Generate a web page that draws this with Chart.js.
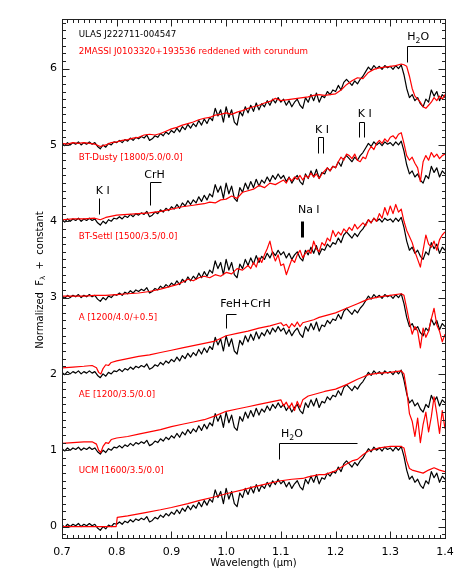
<!DOCTYPE html>
<html><head><meta charset="utf-8">
<script src="https://cdn.jsdelivr.net/npm/chart.js@4.4.1/dist/chart.umd.min.js"></script>
<style>html,body{margin:0;padding:0;background:#fff;}canvas{display:block;}</style>
</head><body>
<canvas id="c" width="463" height="579"></canvas>
<script>
// ---------------- DATA ----------------
// Observed spectrum of ULAS J222711-004547 (normalised), shown once per panel with offsets
const wlObs = [
0.700,0.705,0.710,0.715,0.720,0.725,0.730,0.735,0.740,0.745,0.750,0.755,0.760,0.765,0.770,0.775,0.780,0.785,0.790,0.795,
0.800,0.805,0.810,0.815,0.820,0.825,0.830,0.835,0.840,0.845,0.850,0.855,0.860,0.865,0.870,0.875,0.880,0.885,0.890,0.895,
0.900,0.905,0.910,0.915,0.920,0.925,0.930,0.935,0.940,0.945,0.950,0.955,0.960,0.965,0.970,0.975,0.980,0.985,0.990,0.995,
1.000,1.005,1.010,1.015,1.020,1.025,1.030,1.035,1.040,1.045,1.050,1.055,1.060,1.065,1.070,1.075,1.080,1.085,1.090,1.095,
1.100,1.105,1.110,1.115,1.120,1.125,1.130,1.135,1.140,1.145,1.150,1.155,1.160,1.165,1.170,1.175,1.180,1.185,1.190,1.195,
1.200,1.205,1.210,1.215,1.220,1.225,1.230,1.235,1.240,1.245,1.250,1.255,1.260,1.265,1.270,1.275,1.280,1.285,1.290,1.295,
1.300,1.305,1.310,1.315,1.320,1.325,1.330,1.335,1.340,1.345,1.350,1.355,1.360,1.365,1.370,1.375,1.380,1.385,1.390,1.395,
1.400];
const obsFlux = [
0.02,-0.01,0.03,0.00,0.03,0.01,0.04,0.00,0.03,0.01,0.04,0.01,0.03,-0.02,-0.05,0.00,-0.03,0.02,0.00,0.04,
0.03,0.06,0.03,0.07,0.05,0.09,0.06,0.10,0.08,0.11,0.09,0.13,0.06,0.08,0.12,0.10,0.15,0.12,0.17,0.14,
0.19,0.16,0.22,0.17,0.24,0.20,0.27,0.22,0.28,0.24,0.32,0.26,0.34,0.28,0.36,0.32,0.48,0.38,0.46,0.30,
0.50,0.36,0.46,0.30,0.26,0.44,0.38,0.50,0.42,0.52,0.44,0.55,0.46,0.54,0.50,0.58,0.52,0.60,0.55,0.62,
0.56,0.60,0.52,0.58,0.50,0.56,0.60,0.52,0.48,0.62,0.56,0.66,0.58,0.68,0.56,0.64,0.62,0.70,0.66,0.72,
0.70,0.78,0.72,0.82,0.86,0.82,0.78,0.84,0.80,0.86,0.90,0.96,1.02,0.98,1.04,1.00,1.03,0.99,1.04,1.01,
1.03,0.99,1.04,1.00,1.05,0.92,0.74,0.62,0.66,0.58,0.62,0.54,0.50,0.60,0.56,0.72,0.64,0.70,0.58,0.66,
0.62];
const panelOffsets = [5, 4, 3, 2, 1, 0];

// Comparison spectra (normalised, before offset)
const wl2Mass = [0.70,0.71,0.72,0.73,0.74,0.75,0.76,0.77,0.78,0.79,0.80,0.81,0.82,0.83,0.84,0.85,0.86,0.87,0.88,0.89,
0.90,0.91,0.92,0.93,0.94,0.95,0.96,0.97,0.98,0.99,1.00,1.01,1.02,1.03,1.04,1.05,1.06,1.07,1.08,1.09,
1.10,1.11,1.12,1.13,1.14,1.15,1.16,1.17,1.18,1.19,1.20,1.21,1.22,1.23,1.24,1.25,1.26,1.27,1.28,1.29,
1.30,1.31,1.32,1.325,1.33,1.335,1.34,1.345,1.35,1.355,1.36,1.365,1.37,1.375,1.38,1.385,1.39,1.395,1.40];
const flux2Mass = [0.02,0.01,0.03,0.02,0.03,0.02,0.01,-0.02,0.00,0.03,0.04,0.06,0.07,0.09,0.10,0.13,0.14,0.13,0.15,0.18,
0.21,0.23,0.26,0.28,0.30,0.33,0.35,0.36,0.39,0.40,0.42,0.40,0.43,0.45,0.48,0.50,0.52,0.55,0.57,0.61,
0.58,0.59,0.60,0.61,0.62,0.63,0.65,0.66,0.65,0.66,0.67,0.72,0.79,0.84,0.88,0.87,0.95,0.99,1.01,1.02,
1.03,1.04,1.06,1.05,1.03,0.90,0.74,0.64,0.60,0.56,0.50,0.48,0.52,0.56,0.62,0.58,0.64,0.60,0.66];

const wlDusty = [0.70,0.72,0.74,0.76,0.77,0.78,0.80,0.82,0.84,0.86,0.88,0.90,0.92,0.94,0.95,0.96,0.97,0.98,0.99,1.00,
1.01,1.02,1.03,1.04,1.05,1.06,1.07,1.08,1.09,1.10,
1.105,1.110,1.115,1.120,1.125,1.130,1.135,1.140,1.145,1.150,1.155,1.160,1.165,1.170,1.175,1.180,1.185,1.190,1.195,1.200,
1.205,1.210,1.215,1.220,1.225,1.230,1.235,1.240,1.245,1.250,1.255,1.260,1.265,1.270,1.275,1.280,1.285,1.290,1.295,1.300,
1.305,1.310,1.315,1.320,1.325,1.330,1.335,1.340,1.345,1.350,1.355,1.360,1.365,1.370,1.375,1.380,1.385,1.390,1.395,1.400];
const fluxDusty = [0.02,0.03,0.03,0.04,0.02,0.05,0.08,0.09,0.10,0.11,0.13,0.16,0.19,0.21,0.22,0.23,0.25,0.24,0.28,0.29,
0.33,0.30,0.38,0.40,0.42,0.47,0.44,0.50,0.48,0.52,
0.54,0.50,0.57,0.53,0.58,0.55,0.60,0.54,0.60,0.57,0.63,0.58,0.62,0.56,0.62,0.66,0.70,0.66,0.72,0.70,
0.78,0.84,0.80,0.88,0.86,0.82,0.88,0.80,0.78,0.84,0.82,0.92,0.98,0.94,1.02,1.06,1.02,1.08,1.04,1.10,
1.12,1.08,1.14,1.16,1.02,0.86,0.80,0.84,0.76,0.70,0.52,0.78,0.86,0.80,0.90,0.84,0.88,0.82,0.86,0.88];

const wlSettl = [0.70,0.72,0.74,0.76,0.78,0.80,0.82,0.84,0.86,0.88,0.89,0.90,0.91,0.92,0.93,0.94,0.95,0.96,0.97,0.98,
0.99,1.00,1.01,1.02,1.03,1.04,1.045,1.05,1.055,1.06,1.065,1.07,1.075,1.08,1.085,1.09,1.095,1.10,
1.105,1.110,1.115,1.120,1.125,1.130,1.135,1.140,1.145,1.150,1.155,1.160,1.165,1.170,1.175,1.180,1.185,1.190,1.195,1.200,
1.205,1.210,1.215,1.220,1.225,1.230,1.235,1.240,1.245,1.250,1.255,1.260,1.265,1.270,1.275,1.280,1.285,1.290,1.295,1.300,
1.305,1.310,1.315,1.320,1.325,1.330,1.335,1.340,1.345,1.350,1.355,1.360,1.365,1.370,1.375,1.380,1.385,1.390,1.395,1.400];
const fluxSettl = [0.02,0.02,0.02,0.03,0.03,0.04,0.05,0.06,0.08,0.11,0.13,0.15,0.17,0.20,0.24,0.22,0.26,0.28,0.26,0.30,
0.28,0.33,0.31,0.38,0.36,0.42,0.38,0.46,0.40,0.52,0.46,0.56,0.64,0.74,0.58,0.48,0.56,0.42,
0.44,0.30,0.40,0.50,0.46,0.56,0.62,0.52,0.58,0.62,0.58,0.74,0.64,0.60,0.72,0.68,0.78,0.74,0.88,0.80,
0.86,0.82,0.90,0.86,0.92,0.88,0.96,0.90,0.94,0.98,0.94,1.02,0.98,1.04,1.00,1.10,1.04,1.18,1.08,1.20,
1.10,1.22,1.12,1.16,1.00,0.88,0.80,0.72,0.60,0.50,0.40,0.62,0.82,0.70,0.66,0.74,0.62,0.76,0.82,0.86];

const wlA = [0.70,0.72,0.74,0.755,0.763,0.767,0.771,0.775,0.78,0.785,0.79,0.80,0.82,0.84,0.86,0.88,0.90,0.92,0.94,0.96,
0.98,1.00,1.02,1.04,1.06,1.08,1.10,1.105,1.11,1.115,1.12,1.125,1.13,1.135,1.14,1.15,1.16,1.17,1.18,1.20,
1.22,1.24,1.25,1.26,1.28,1.30,1.32,1.325,1.33,1.335,1.34,1.345,1.35,1.355,1.36,1.365,1.37,1.375,1.38,1.385,
1.39,1.395,1.40];
const fluxA = [0.08,0.09,0.10,0.11,0.08,0.02,0.00,0.07,0.12,0.11,0.15,0.17,0.20,0.23,0.25,0.28,0.31,0.34,0.37,0.40,
0.43,0.50,0.53,0.56,0.60,0.63,0.67,0.63,0.65,0.60,0.66,0.62,0.68,0.62,0.67,0.69,0.71,0.74,0.76,0.80,
0.86,0.92,0.95,0.98,1.01,1.03,1.05,1.03,0.86,0.68,0.52,0.62,0.56,0.34,0.60,0.48,0.56,0.72,0.86,0.64,
0.56,0.42,0.52];

const wlAE = [0.70,0.72,0.74,0.755,0.763,0.767,0.771,0.775,0.78,0.785,0.79,0.80,0.82,0.84,0.86,0.88,0.90,0.92,0.94,0.96,
0.98,1.00,1.02,1.04,1.06,1.08,1.10,1.105,1.11,1.115,1.12,1.125,1.13,1.135,1.14,1.15,1.16,1.17,1.18,1.20,
1.22,1.24,1.25,1.26,1.28,1.30,1.32,1.325,1.33,1.335,1.34,1.345,1.35,1.355,1.36,1.365,1.37,1.375,1.38,1.385,
1.39,1.395,1.40];
const fluxAE = [0.09,0.10,0.11,0.11,0.08,0.00,-0.03,0.05,0.10,0.09,0.14,0.16,0.18,0.21,0.24,0.27,0.31,0.34,0.37,0.40,
0.45,0.51,0.54,0.57,0.60,0.63,0.66,0.58,0.63,0.55,0.62,0.52,0.64,0.56,0.66,0.71,0.73,0.75,0.77,0.80,
0.86,0.93,0.96,0.99,1.01,1.02,1.04,1.00,0.78,0.48,0.38,0.18,0.42,0.10,0.34,0.50,0.24,0.44,0.70,0.48,
0.22,0.52,0.28];

const wlUCM = [0.70,0.75,0.799,0.801,0.82,0.85,0.88,0.90,0.93,0.95,0.98,1.00,1.03,1.05,1.08,1.10,1.12,1.14,1.15,1.17,
1.18,1.20,1.22,1.23,1.24,1.25,1.26,1.28,1.30,1.32,1.325,1.33,1.335,1.34,1.35,1.36,1.37,1.38,1.39,1.40];
const fluxUCM = [0.00,0.00,0.00,0.12,0.14,0.18,0.22,0.25,0.30,0.34,0.39,0.43,0.48,0.52,0.57,0.60,0.62,0.63,0.65,0.68,
0.68,0.73,0.82,0.86,0.88,0.94,0.99,1.03,1.05,1.05,1.03,0.86,0.76,0.74,0.72,0.70,0.74,0.77,0.74,0.72];

const xTickValues = [0.7, 0.8, 0.9, 1.0, 1.1, 1.2, 1.3, 1.4];
const yTickValues = [0, 1, 2, 3, 4, 5, 6];

const modelLabels = ["BT-Dusty [1800/5.0/0.0]", "BT-Settl [1500/3.5/0.0]", "A [1200/4.0/+0.5]", "AE [1200/3.5/0.0]", "UCM [1600/3.5/0.0]"];
const objectLabel = "ULAS J222711-004547";
const compLabel = "2MASSI J0103320+193536 reddened with corundum";

// ---------------- BUILD ----------------
const FONT = "'DejaVu Sans', sans-serif";
const RED = '#ff0000';
const pts = (wl, f, off) => wl.map((w, i) => ({ x: w, y: f[i] + off }));

const models = [
  { wl: wl2Mass, f: flux2Mass, off: 5 },
  { wl: wlDusty, f: fluxDusty, off: 4 },
  { wl: wlSettl, f: fluxSettl, off: 3 },
  { wl: wlA, f: fluxA, off: 2 },
  { wl: wlAE, f: fluxAE, off: 1 },
  { wl: wlUCM, f: fluxUCM, off: 0 },
];

const datasets = [];
models.forEach((m, i) => datasets.push({
  label: i === 0 ? compLabel : modelLabels[i - 1],
  data: pts(m.wl, m.f, m.off), borderColor: RED, borderWidth: 1.2,
  pointRadius: 0, tension: 0, fill: false
}));
panelOffsets.forEach(off => datasets.push({
  label: objectLabel, data: pts(wlObs, obsFlux, off), borderColor: '#000', borderWidth: 1.2,
  pointRadius: 0, tension: 0, fill: false
}));

// annotation layout (data coordinates)
const LS = 8.7;
const textNotes = [
  { segs: [[objectLabel]], x: 0.7305, y: 6.446, color: '#000', size: LS, align: 'left' },
  { segs: [[compLabel]], x: 0.7305, y: 6.219, color: RED, size: LS, align: 'left' },
  { segs: [[modelLabels[0]]], x: 0.7305, y: 4.83, color: RED, size: LS, align: 'left' },
  { segs: [[modelLabels[1]]], x: 0.7305, y: 3.80, color: RED, size: LS, align: 'left' },
  { segs: [[modelLabels[2]]], x: 0.7305, y: 2.734, color: RED, size: LS, align: 'left' },
  { segs: [[modelLabels[3]]], x: 0.7305, y: 1.729, color: RED, size: LS, align: 'left' },
  { segs: [[modelLabels[4]]], x: 0.7305, y: 0.734, color: RED, size: LS, align: 'left' },
  { segs: [['H'], ['2', 1], ['O']], x: 1.351, y: 6.41, color: '#000', size: 11, align: 'center' },
  { segs: [['K I']], x: 1.2535, y: 5.40, color: '#000', size: 11, align: 'center' },
  { segs: [['K I']], x: 1.175, y: 5.20, color: '#000', size: 11, align: 'center' },
  { segs: [['CrH']], x: 0.869, y: 4.60, color: '#000', size: 11, align: 'center' },
  { segs: [['K I']], x: 0.7745, y: 4.39, color: '#000', size: 11, align: 'center' },
  { segs: [['Na I']], x: 1.151, y: 4.14, color: '#000', size: 11, align: 'center' },
  { segs: [['FeH+CrH']], x: 1.0354, y: 2.91, color: '#000', size: 11, align: 'center' },
  { segs: [['H'], ['2', 1], ['O']], x: 1.1203, y: 1.205, color: '#000', size: 11, align: 'center' },
];
const lineNotes = [
  { p: [[1.330, 6.09], [1.330, 6.30], [1.40, 6.30]], w: 1 },
  { p: [[1.2425, 5.10], [1.2425, 5.30], [1.2516, 5.30], [1.2516, 5.10]], w: 1 },
  { p: [[1.1683, 4.895], [1.1683, 5.105], [1.1774, 5.105], [1.1774, 4.895]], w: 1 },
  { p: [[0.861, 4.21], [0.861, 4.51], [0.8806, 4.51]], w: 1 },
  { p: [[0.7675, 4.10], [0.7675, 4.31]], w: 1 },
  { p: [[1.138, 3.80], [1.138, 4.00]], w: 3 },
  { p: [[0.9993, 2.60], [0.9993, 2.79], [1.018, 2.79]], w: 1 },
  { p: [[1.0965, 0.89], [1.0965, 1.096], [1.240, 1.096]], w: 1 },
];

function drawSegs(ctx, segs, x, y, size, align) {
  const widths = segs.map(s => { ctx.font = (s[1] ? size * 0.7 : size) + 'px ' + FONT; return ctx.measureText(s[0]).width; });
  const total = widths.reduce((a, b) => a + b, 0);
  let cx = align === 'center' ? x - total / 2 : x;
  segs.forEach((s, i) => {
    ctx.font = (s[1] ? size * 0.7 : size) + 'px ' + FONT;
    ctx.fillText(s[0], cx, y + (s[1] ? size * 0.3 : 0));
    cx += widths[i];
  });
}

const decor = {
  id: 'decor',
  afterDatasetsDraw(chart) {
    const { ctx, chartArea: a, scales: { x, y } } = chart;
    ctx.save();
    ctx.textBaseline = 'middle'; ctx.textAlign = 'left';
    textNotes.forEach(n => {
      ctx.fillStyle = n.color;
      drawSegs(ctx, n.segs, x.getPixelForValue(n.x), y.getPixelForValue(n.y), n.size, n.align);
    });
    ctx.strokeStyle = '#000';
    lineNotes.forEach(l => {
      ctx.lineWidth = l.w; ctx.beginPath();
      l.p.forEach((q, i) => {
        const px = Math.round(x.getPixelForValue(q[0])) + 0.5, py = Math.round(y.getPixelForValue(q[1])) + 0.5;
        i ? ctx.lineTo(px, py) : ctx.moveTo(px, py);
      });
      ctx.stroke();
    });
    // frame with inward ticks on all sides
    ctx.lineWidth = 1; ctx.strokeStyle = '#222';
    const L = Math.round(a.left) + 0.5, R = Math.round(a.right) + 0.5, T = Math.round(a.top) + 0.5, B = Math.round(a.bottom) + 0.5;
    ctx.strokeRect(L, T, R - L, B - T);
    ctx.beginPath();
    for (let k = 0; k <= 70; k++) {
      const v = 0.7 + k * 0.01;
      const px = Math.round(x.getPixelForValue(v)) + 0.5;
      const len = (k % 10 === 0) ? 7 : 3.5;
      ctx.moveTo(px, B); ctx.lineTo(px, B - len);
      ctx.moveTo(px, T); ctx.lineTo(px, T + len);
    }
    for (let k = -1; k <= 66; k++) {
      const v = k * 0.1;
      if (v < y.min || v > y.max) continue;
      const py = Math.round(y.getPixelForValue(v)) + 0.5;
      const len = (k % 10 === 0) ? 7 : 3.5;
      ctx.moveTo(L, py); ctx.lineTo(L + len, py);
      ctx.moveTo(R, py); ctx.lineTo(R - len, py);
    }
    ctx.stroke();
    // axis titles
    ctx.fillStyle = '#000'; ctx.textBaseline = 'middle';
    drawSegs(ctx, [['Wavelength (\u03bcm)']], (a.left + a.right) / 2, 563, 10, 'center');
    ctx.translate(40, 280); ctx.rotate(-Math.PI / 2);
    drawSegs(ctx, [['Normalized  F'], ['\u03bb', 1], ['  +  constant']], 0, 0, 10, 'center');
    ctx.restore();
  }
};

new Chart(document.getElementById('c'), {
  type: 'line',
  data: { datasets },
  options: {
    responsive: false, animation: false, devicePixelRatio: 1,
    layout: { padding: { top: 19, right: 18, left: 0, bottom: 0 } },
    plugins: { legend: { display: false }, tooltip: { enabled: false } },
    elements: { line: { borderJoinStyle: 'round' } },
    scales: {
      x: {
        type: 'linear', min: 0.7, max: 1.4,
        grid: { display: false, drawTicks: false }, border: { display: false },
        afterBuildTicks: s => { s.ticks = xTickValues.map(v => ({ value: v })); },
        afterFit: s => { s.height = 41; },
        ticks: { color: '#000', padding: 8, maxRotation: 0, font: { family: FONT, size: 11 }, callback: v => v.toFixed(1) }
      },
      y: {
        type: 'linear', min: -0.15, max: 6.65,
        grid: { display: false, drawTicks: false }, border: { display: false },
        afterBuildTicks: s => { s.ticks = yTickValues.map(v => ({ value: v })); },
        afterFit: s => { s.width = 62; },
        ticks: { color: '#000', padding: 5, font: { family: FONT, size: 11 }, callback: v => String(v) }
      }
    }
  },
  plugins: [decor]
});
</script>
</body></html>
